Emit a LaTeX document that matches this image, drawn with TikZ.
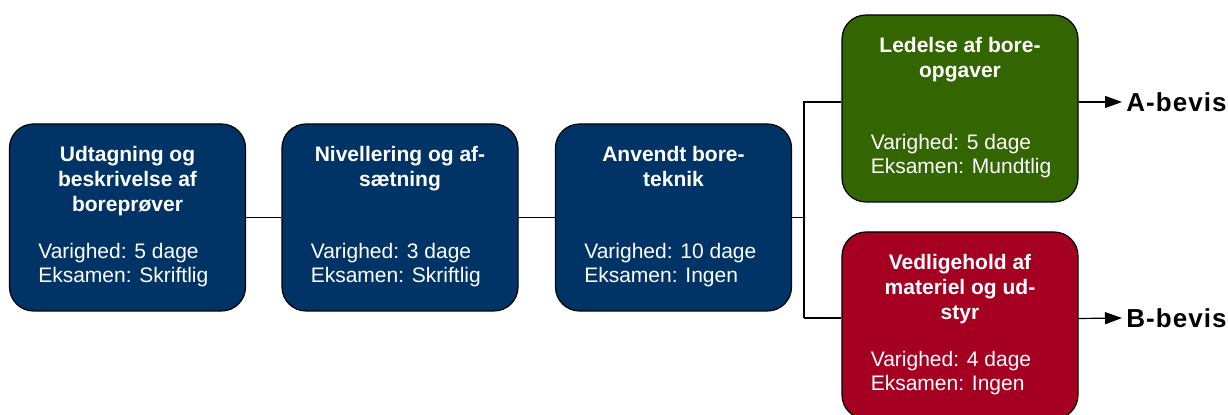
\documentclass[tikz,border=0pt]{standalone}
\usepackage{fontspec}
\setmainfont{Liberation Sans}
\usetikzlibrary{arrows.meta}
\definecolor{kursblaa}{HTML}{003366}
\definecolor{kursgroen}{HTML}{336600}
\definecolor{kursroed}{HTML}{A50021}
\tikzset{
  kursus/.style={draw=black, line width=0.6pt, rounded corners=12pt, minimum width=118pt, minimum height=93.5pt, inner sep=0pt},
  titel/.style={text=white, font=\fontsize{10.5}{12.5}\selectfont\bfseries, align=center, inner sep=0pt, anchor=north},
  info/.style={text=white, font=\fontsize{10.5}{12}\selectfont, align=left, inner sep=0pt, anchor=south west},
  led/.style={line width=0.6pt},
  pil/.style={line width=0.6pt, -{Triangle[length=8.5pt,width=6pt]}},
  bevis/.style={font=\fontsize{13}{15}\selectfont\bfseries\addfontfeatures{LetterSpace=4}, anchor=west, inner sep=2pt}
}
\newcommand{\kursus}[6]{ \node[kursus, fill=#4] (#1) at (#2,#3) {}; \node[titel] (#1t) at ([yshift=-11pt]#1.north) {#5}; \node[info] (#1i) at ([shift={(14.5pt,12pt)}]#1.south west) {#6};}

\begin{document}
\begin{tikzpicture}[x=0.5pt, y=-0.5pt]
\useasboundingbox (0,0) rectangle (1228,415);
% forloeb
\kursus{k1}{127.5}{217.5}{kursblaa}{Udtagning og\\beskrivelse af\\boreprøver}{Varighed: 5 dage\\Eksamen: Skriftlig}
\kursus{k2}{400}{217.5}{kursblaa}{Nivellering og af-\\sætning}{Varighed: 3 dage\\Eksamen: Skriftlig}
\kursus{k3}{673.5}{217.5}{kursblaa}{Anvendt bore-\\teknik}{Varighed: 10 dage\\Eksamen: Ingen}
% overbygning
\kursus{k4}{960}{108.5}{kursgroen}{Ledelse af bore-\\opgaver}{Varighed: 5 dage\\Eksamen: Mundtlig}
\kursus{k5}{960}{325.5}{kursroed}{Vedligehold af\\materiel og ud-\\styr}{Varighed: 4 dage\\Eksamen: Ingen}

\coordinate (deling) at (804,217.5);
\coordinate (indA) at ([yshift=3.25pt]k4.west);
\coordinate (indB) at ([yshift=3.5pt]k5.west);
\coordinate (udA) at ([yshift=3.25pt]k4.east);
\coordinate (udB) at ([yshift=3.5pt]k5.east);
\node[bevis] (beA) at (1122,102) {A-bevis};
\node[bevis] (beB) at (1122,318) {B-bevis};

\draw[led] (k1) -- (k2);
\draw[led] (k2) -- (k3);
\draw[led] (k3.east) -- (deling);
\draw[led] (deling) |- (indA);
\draw[led] (deling) -- (deling |- indB);
\draw[line width=1pt] (deling |- indB) -- (indB);
\draw[pil] (udA) -- (beA.west);
\draw[pil] (udB) -- (beB.west);

\end{tikzpicture}
\end{document}
